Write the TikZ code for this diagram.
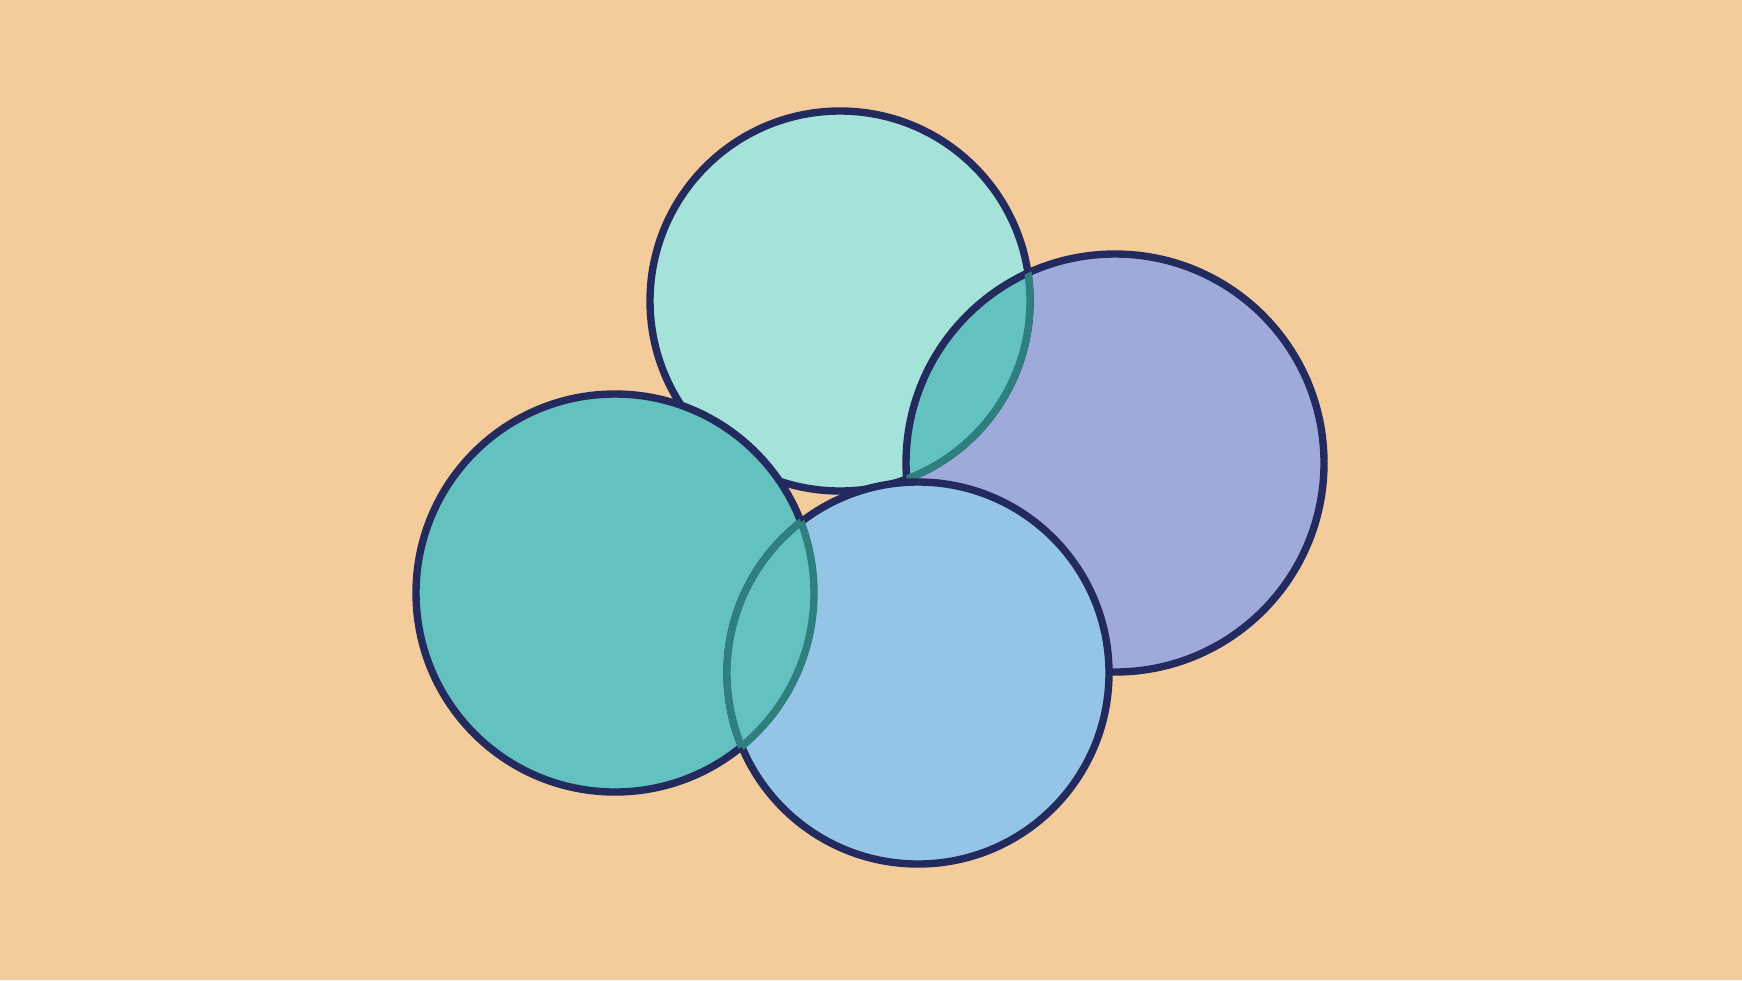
\documentclass[tikz,border=0pt]{standalone}
\definecolor{bgc}{HTML}{F4CB9B}
\definecolor{topc}{HTML}{A5E2DA}
\definecolor{rightc}{HTML}{9EABDA}
\definecolor{leftc}{HTML}{63C2BF}
\definecolor{botc}{HTML}{95C5E6}
\definecolor{navy}{HTML}{232A5E}
\definecolor{dteal}{HTML}{2E7F7E}
\newcommand\cTop{(8.40,6.79) circle[radius=1.90]}
\newcommand\cRight{(11.15,5.17) circle[radius=2.09]}
\newcommand\cLeft{(6.15,3.87) circle[radius=1.99]}
\newcommand\cBot{(9.18,3.07) circle[radius=1.91]}
\tikzset{ring/.style={line width=2.1pt},
  navyring/.style={ring,draw=navy},
  tealring/.style={ring,draw=dteal}}
\begin{document}
\begin{tikzpicture}
\fill[bgc] (0,0) rectangle (17.42,9.80);
\useasboundingbox (0,0) rectangle (17.42,9.80);
% right circle
\path[fill=rightc,navyring] \cRight;
% top circle
\path[fill=topc,navyring] \cTop;
% lens top/right
\begin{scope}
\clip \cTop;
\fill[leftc] \cRight;
\draw[navyring] \cRight;
\end{scope}
\begin{scope}
\clip \cRight;
\draw[tealring] \cTop;
\end{scope}
% left circle
\path[fill=leftc,navyring] \cLeft;
% bottom circle
\path[fill=botc,navyring] \cBot;
% lens left/bottom
\begin{scope}
\clip \cLeft;
\fill[leftc] \cBot;
\draw[tealring] \cBot;
\end{scope}
\begin{scope}
\clip \cBot;
\draw[tealring] \cLeft;
\end{scope}
\end{tikzpicture}
\end{document}
